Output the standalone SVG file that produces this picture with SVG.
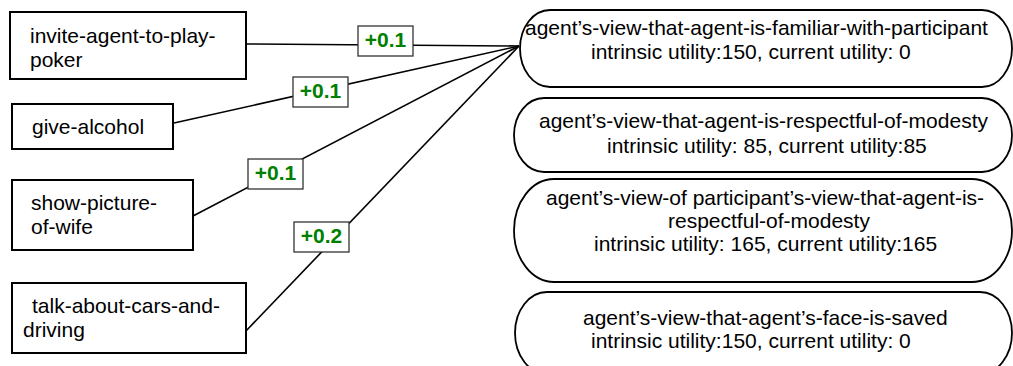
<svg xmlns="http://www.w3.org/2000/svg" width="1013" height="366" viewBox="0 0 1013 366">
  <style>
    .act { fill: #fff; stroke: #000; stroke-width: 2; }
    .goal { fill: #fff; stroke: #000; stroke-width: 1.8; }
    .txt { font-family: "Liberation Sans", Arial, sans-serif; font-size: 21px; fill: #000; }
    .wire { stroke: #000; stroke-width: 1.6; fill: none; }
    .wbox { fill: #fff; stroke: #333; stroke-width: 1.3; }
    .wtxt { font-family: "Liberation Sans", Arial, sans-serif; font-size: 21px; font-weight: bold; fill: #008000; text-anchor: middle; }
  </style>

  <!-- connectors: every action feeds the familiarity goal -->
  <g id="connectors">
    <line class="wire" x1="246" y1="44" x2="519" y2="46"/>
    <line class="wire" x1="174" y1="123" x2="519" y2="46"/>
    <line class="wire" x1="193" y1="216" x2="519" y2="46"/>
    <line class="wire" x1="245" y1="332" x2="519" y2="46"/>
    <g id="weight-1"><rect class="wbox" x="358" y="26" width="55" height="30"/><text class="wtxt" x="385.5" y="47">+0.1</text></g>
    <g id="weight-2"><rect class="wbox" x="293" y="77" width="55" height="30"/><text class="wtxt" x="320.5" y="98">+0.1</text></g>
    <g id="weight-3"><rect class="wbox" x="248" y="159" width="55" height="30"/><text class="wtxt" x="275.5" y="180">+0.1</text></g>
    <g id="weight-4"><rect class="wbox" x="294" y="222" width="55" height="30"/><text class="wtxt" x="321.5" y="243">+0.2</text></g>
  </g>

  <!-- actions -->
  <g id="invite-agent-to-play-poker">
    <rect class="act" x="10" y="12" width="236" height="67"/>
    <text class="txt" x="30" y="43">invite-agent-to-play-</text>
    <text class="txt" x="30" y="67">poker</text>
  </g>
  <g id="give-alcohol">
    <rect class="act" x="12" y="104" width="161" height="45"/>
    <text class="txt" x="32" y="134">give-alcohol</text>
  </g>
  <g id="show-picture-of-wife">
    <rect class="act" x="12" y="180" width="181" height="70"/>
    <text class="txt" x="31" y="210">show-picture-</text>
    <text class="txt" x="31" y="234">of-wife</text>
  </g>
  <g id="talk-about-cars-and-driving">
    <rect class="act" x="12" y="283" width="234" height="70"/>
    <text class="txt" x="32" y="313">talk-about-cars-and-</text>
    <text class="txt" x="23" y="337">driving</text>
  </g>

  <!-- goals -->
  <g id="familiar-with-participant">
    <rect class="goal" x="520" y="10" width="492" height="77" rx="30" ry="38.5"/>
    <text class="txt" x="525" y="35">agent’s-view-that-agent-is-familiar-with-participant</text>
    <text class="txt" x="591" y="59">intrinsic utility:150, current utility: 0</text>
  </g>
  <g id="respectful-of-modesty">
    <rect class="goal" x="514" y="98" width="498" height="74" rx="30" ry="37"/>
    <text class="txt" x="539" y="128">agent’s-view-that-agent-is-respectful-of-modesty</text>
    <text class="txt" x="607" y="153">intrinsic utility: 85, current utility:85</text>
  </g>
  <g id="participant-view-respectful">
    <rect class="goal" x="514" y="179" width="498" height="103" rx="40" ry="51.5"/>
    <text class="txt" x="546" y="205">agent’s-view-of participant’s-view-that-agent-is-</text>
    <text class="txt" x="668" y="228">respectful-of-modesty</text>
    <text class="txt" x="594" y="251">intrinsic utility: 165, current utility:165</text>
  </g>
  <g id="face-is-saved">
    <rect class="goal" x="515" y="292" width="497" height="82" rx="32" ry="41"/>
    <text class="txt" x="583" y="325">agent’s-view-that-agent’s-face-is-saved</text>
    <text class="txt" x="591" y="348">intrinsic utility:150, current utility: 0</text>
  </g>
</svg>
